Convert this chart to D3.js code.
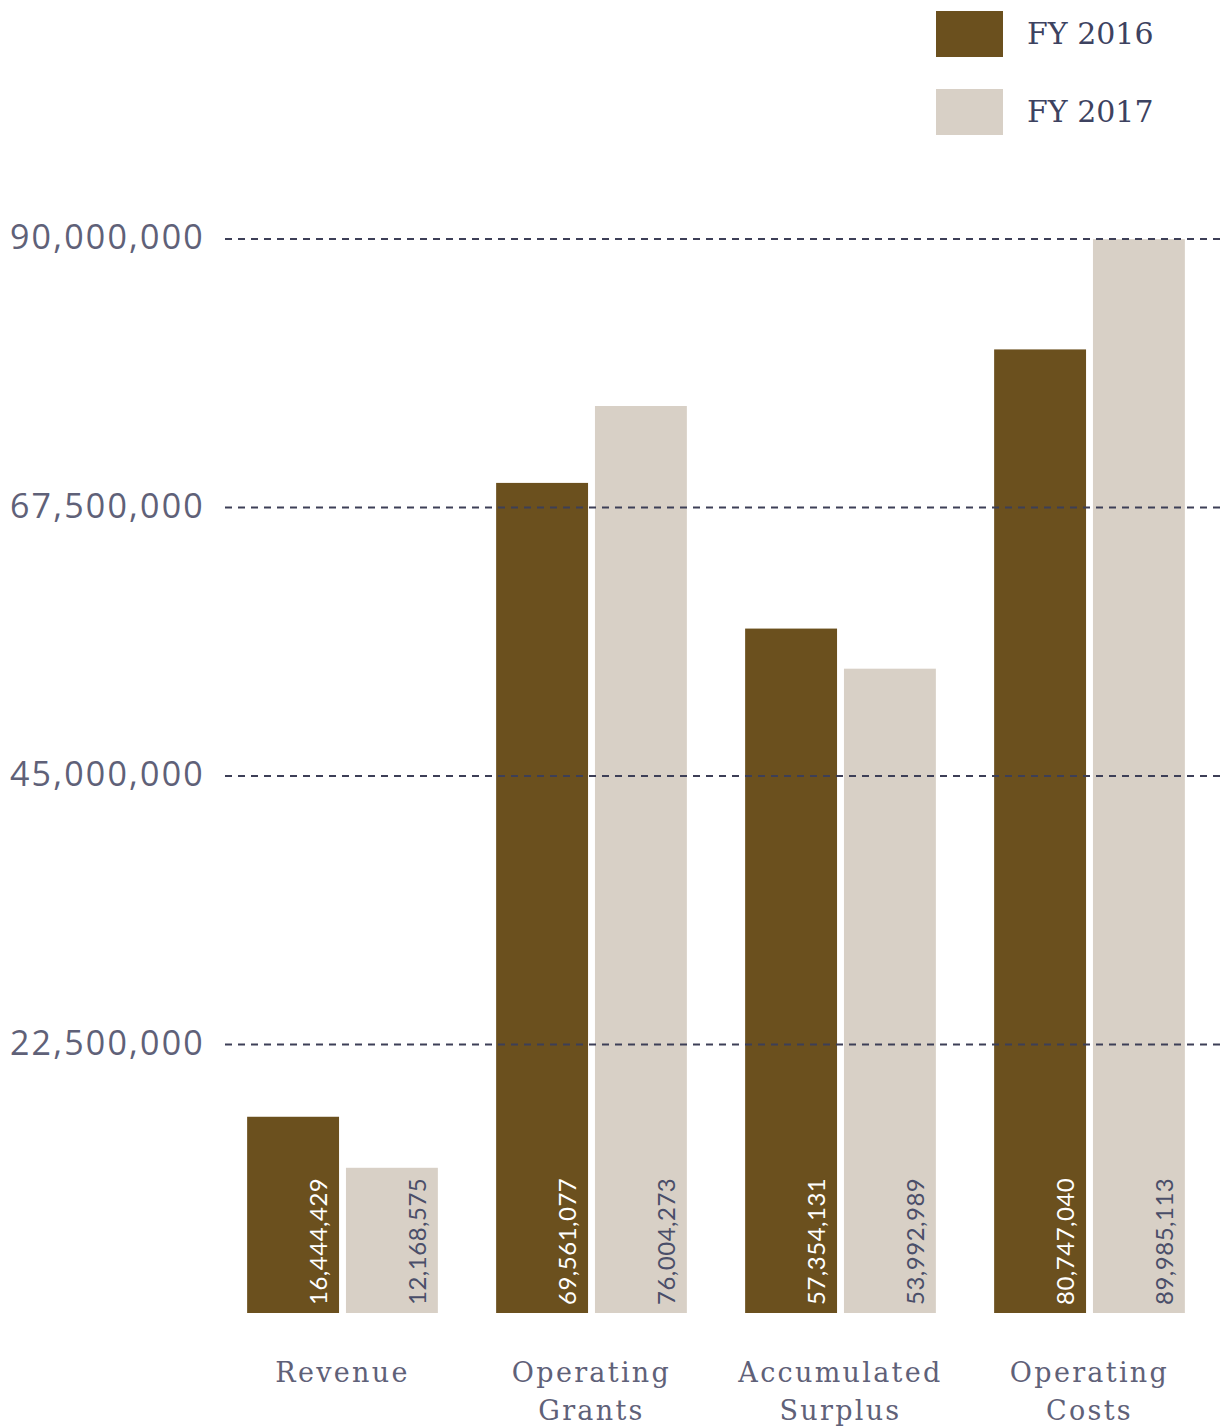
<!DOCTYPE html>
<html><head><meta charset="utf-8">
<script src="https://cdn.jsdelivr.net/npm/d3@7"></script>
<style>body{margin:0;background:#fff}svg{display:block}</style>
</head><body>
<svg id="chart" width="1224" height="1428"></svg>
<script>
const categories = [["Revenue"], ["Operating", "Grants"], ["Accumulated", "Surplus"], ["Operating", "Costs"]];
const categoryKeys = ["Revenue", "Operating Grants", "Accumulated Surplus", "Operating Costs"];
const seriesNames = ["FY 2016", "FY 2017"];
const fy2016 = [16444429, 69561077, 57354131, 80747040];
const fy2017 = [12168575, 76004273, 53992989, 89985113];
const yTicks = [22500000, 45000000, 67500000, 90000000];
const colors = ["#6b501e", "#d8d0c6"];
const labelColors = ["#ffffff", "#4a4e69"];

const svg = d3.select("#chart");
const y = d3.scaleLinear().domain([0, 90000000]).range([1313, 239]);
const x0 = d3.scaleBand().domain(categoryKeys).range([218, 1214]).paddingInner(0.234).paddingOuter(0.117);
const x1 = d3.scaleBand().domain(seriesNames).range([0, x0.bandwidth()]).paddingInner(0.07);
const fmt = d3.format(",");

// y tick labels via axis
const yAxis = svg.append("g").attr("transform", "translate(205,0)")
  .call(d3.axisLeft(y).tickValues(yTicks).tickFormat(fmt).tickSize(0).tickPadding(0));
yAxis.select(".domain").remove();
yAxis.selectAll("text")
  .attr("font-family", "Open Sans, sans-serif").attr("font-size", 34)
  .attr("letter-spacing", 2.2).attr("fill", "#5f6178").attr("dy", "0.28em");

// bars
const rows = categoryKeys.map((k, i) => ({key: k, values: [fy2016[i], fy2017[i]]}));
const groups = svg.append("g").selectAll("g").data(rows).join("g")
  .attr("transform", d => `translate(${x0(d.key)},0)`);
groups.selectAll("rect").data(d => d.values.map((v, j) => ({s: seriesNames[j], v, j}))).join("rect")
  .attr("x", d => x1(d.s)).attr("width", x1.bandwidth())
  .attr("y", d => y(d.v)).attr("height", d => y(0) - y(d.v))
  .attr("fill", d => colors[d.j]);
groups.selectAll("text.val").data(d => d.values.map((v, j) => ({s: seriesNames[j], v, j}))).join("text")
  .attr("class", "val")
  .attr("transform", d => `translate(${x1(d.s) + x1.bandwidth() - 12},${y(0) - 8}) rotate(-90)`)
  .attr("font-family", "Lato, sans-serif").attr("font-size", 24).attr("letter-spacing", 0.5)
  .attr("fill", d => labelColors[d.j])
  .text(d => fmt(d.v));

// gridlines drawn over the bars
const grid = svg.append("g");
grid.selectAll("line").data(yTicks).join("line")
  .attr("x1", 225).attr("x2", 1222)
  .attr("y1", d => y(d)).attr("y2", d => y(d))
  .attr("stroke", "#3d3f57").attr("stroke-width", 2.2).attr("stroke-dasharray", "7,6");

// category labels
const cat = svg.append("g").selectAll("text").data(rows).join("text")
  .attr("x", d => x0(d.key) + x0.bandwidth() / 2).attr("y", 1382)
  .attr("text-anchor", "middle")
  .attr("font-family", "DejaVu Serif, serif").attr("font-size", 27).attr("letter-spacing", 2.3)
  .attr("fill", "#5f6178");
cat.selectAll("tspan").data((d, i) => categories[i]).join("tspan")
  .attr("x", function() { return this.parentNode.getAttribute("x"); })
  .attr("dy", (d, i) => i === 0 ? 0 : 38)
  .text(d => d);

// legend
const legend = svg.append("g").selectAll("g").data(seriesNames).join("g")
  .attr("transform", (d, i) => `translate(936,${11 + i * 78})`);
legend.append("rect").attr("width", 67).attr("height", 46).attr("fill", (d, i) => colors[i]);
legend.append("text").attr("x", 91).attr("y", 33)
  .attr("font-family", "DejaVu Serif, serif").attr("font-size", 30)
  .attr("fill", "#3d4260").text(d => d);
</script>
</body></html>
